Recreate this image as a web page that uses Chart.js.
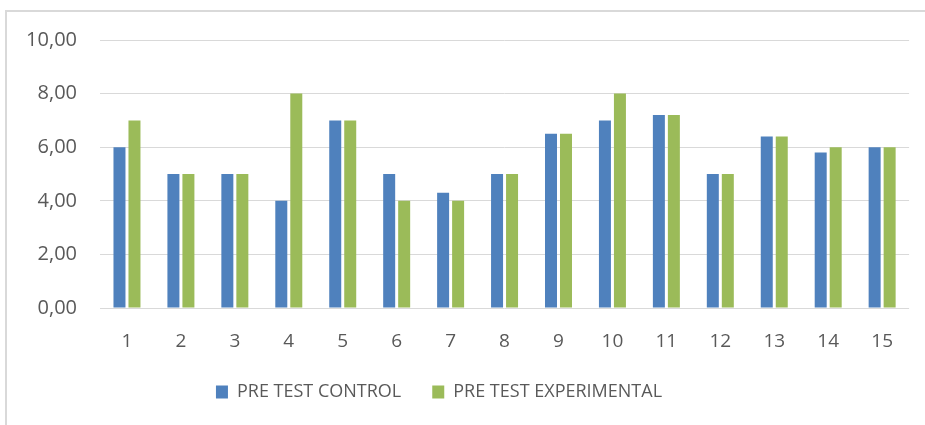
<!DOCTYPE html>
<html>
<head>
<meta charset="utf-8">
<script src="https://cdn.jsdelivr.net/npm/chart.js@4/dist/chart.umd.min.js"></script>
<style>
  html, body { margin: 0; padding: 0; background: #ffffff; overflow: hidden; }
  #wrap { position: absolute; left: 0; top: 0; width: 925px; height: 425px; overflow: hidden; }
  #frame { position: absolute; left: 5px; top: 10px; width: 960px; height: 460px;
           border-left: 2px solid #d9d9d9; border-top: 2px solid #d9d9d9; box-sizing: border-box; }
  #c { position: absolute; left: -37px; top: 0px; }
</style>
</head>
<body>
<div id="wrap">
<div id="frame"></div>
<canvas id="c" width="952" height="425"></canvas>
</div>
<script>
const categories = ['1','2','3','4','5','6','7','8','9','10','11','12','13','14','15'];
const seriesNames = ['PRE TEST CONTROL', 'PRE TEST EXPERIMENTAL'];
const controlValues = [6, 5, 5, 4, 7, 5, 4.3, 5, 6.5, 7, 7.2, 5, 6.4, 5.8, 6];
const experimentalValues = [7, 5, 5, 8, 7, 4, 4, 5, 6.5, 8, 7.2, 5, 6.4, 6, 6];
const yTickLabels = ['0,00', '2,00', '4,00', '6,00', '8,00', '10,00'];

const textColor = '#595959';

new Chart(document.getElementById('c'), {
  type: 'bar',
  data: {
    labels: categories,
    datasets: [
      { label: seriesNames[0], data: controlValues, backgroundColor: '#4F81BD',
        categoryPercentage: 0.556, barPercentage: 0.8 },
      { label: seriesNames[1], data: experimentalValues, backgroundColor: '#9BBB59',
        categoryPercentage: 0.556, barPercentage: 0.8 }
    ]
  },
  options: {
    responsive: false,
    animation: false,
    devicePixelRatio: 1,
    layout: { padding: { top: 40, left: 0, right: 0, bottom: 14 } },
    plugins: {
      tooltip: { enabled: false },
      legend: {
        position: 'bottom',
        labels: {
          boxWidth: 12, boxHeight: 13, padding: 31,
          color: textColor,
          font: { family: "'Open Sans', sans-serif", size: 18 }
        }
      }
    },
    scales: {
      x: {
        grid: { display: false, drawTicks: false },
        border: { display: false },
        ticks: { color: textColor, padding: 22, maxRotation: 0,
                 font: { family: "'Open Sans', sans-serif", size: 19 } },
        afterFit: function(scale) { scale.height = 44; }
      },
      y: {
        min: 0, max: 10,
        grid: { color: '#d9d9d9', lineWidth: 1, drawTicks: false },
        border: { display: false },
        ticks: {
          stepSize: 2, padding: 23, color: textColor,
          font: { family: "'Open Sans', sans-serif", size: 20 },
          callback: function(value, index) { return yTickLabels[index]; }
        },
        afterFit: function(scale) { scale.width = 137; }
      }
    }
  }
});
</script>
</body>
</html>
